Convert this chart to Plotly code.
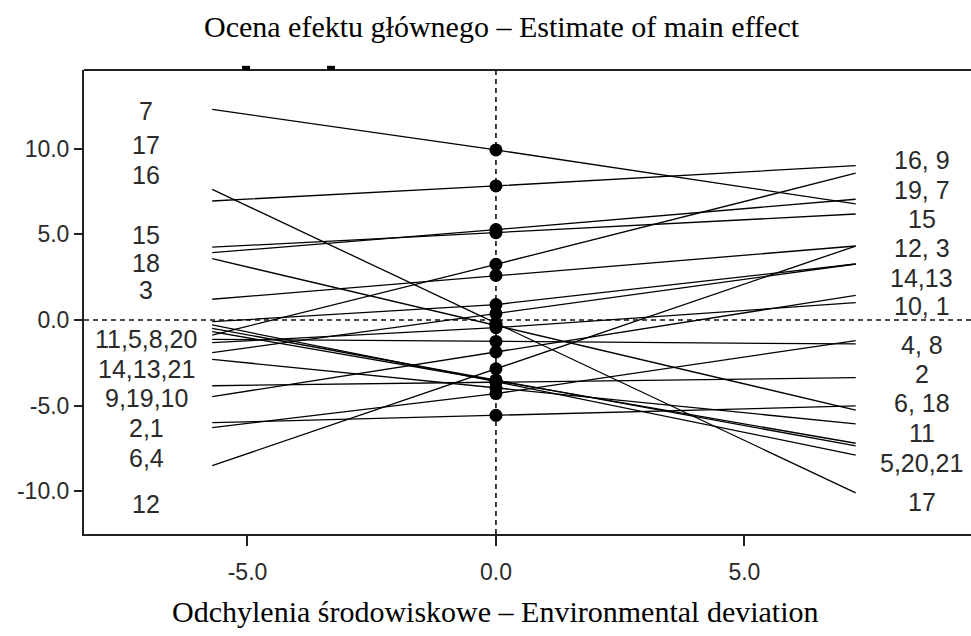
import plotly.graph_objects as go

# ---- data ----
genotypes   = [7, 17, 16, 15, 19, 18, 3, 9, 13, 21, 20, 5, 8, 1, 14, 11, 2, 10, 6, 4, 12]
left_end    = [12.3, 7.63, 6.95, 4.25, 3.93, 3.58, 1.21, -0.88, -0.10, -0.29, -0.49, -0.68,
               -1.13, -1.32, -1.91, -2.30, -3.84, -4.48, -6.00, -6.29, -8.51]
main_effect = [9.93, -0.19, 7.83, 5.10, 5.28, -0.30, 2.60, 3.25, 0.90, -3.60, -3.50, -3.55,
               -1.25, -0.45, 0.37, -3.96, -3.63, -1.87, -5.57, -4.30, -2.85]
right_end   = [6.78, -10.10, 9.01, 6.19, 7.05, -5.26, 4.32, 8.57, 3.27, -7.89, -7.35, -7.20,
               -1.40, 1.01, 3.27, -6.07, -3.37, 1.44, -5.02, -1.20, 4.32]
env_dev_min = -5.71
env_dev_max = 7.24

left_labels  = ["7", "17", "16", "15", "18", "3", "11,5,8,20", "14,13,21", "9,19,10", "2,1", "6,4", "12"]
left_label_y = [12.2, 10.22, 8.47, 4.96, 3.33, 1.75, -1.11, -2.86, -4.56, -6.31, -8.06, -10.75]
right_labels  = ["16, 9", "19, 7", "15", "12, 3", "14,13", "10, 1", "4, 8", "2", "6, 18", "11", "5,20,21", "17"]
right_label_y = [9.35, 7.59, 5.90, 4.21, 2.45, 0.82, -1.46, -3.15, -4.85, -6.60, -8.35, -10.63]

x_ticks = [-5.0, 0.0, 5.0]
y_ticks = [-10.0, -5.0, 0.0, 5.0, 10.0]

fig = go.Figure()

# reference dashed lines
fig.add_shape(type="line", xref="x", yref="paper", x0=0, x1=0, y0=0, y1=1,
              line=dict(color="#111", width=1.6, dash="5px,4px"), layer="below")
fig.add_shape(type="line", xref="paper", yref="y", x0=0, x1=1, y0=0, y1=0,
              line=dict(color="#111", width=1.4, dash="5px,4px"), layer="below")

for g, l, c, r in zip(genotypes, left_end, main_effect, right_end):
    fig.add_trace(go.Scatter(x=[env_dev_min, 0, env_dev_max], y=[l, c, r], mode="lines",
                             line=dict(color="black", width=1.3), hoverinfo="skip",
                             name=str(g), showlegend=False))

fig.add_trace(go.Scatter(x=[0] * len(main_effect), y=main_effect, mode="markers",
                         marker=dict(symbol="circle", size=13, color="black"),
                         showlegend=False))

lab_font = dict(family="Liberation Sans, Arial", size=25, color="#2a2a2a")
for t, y in zip(left_labels, left_label_y):
    fig.add_annotation(x=-7.04, y=y, xref="x", yref="y", text=t, showarrow=False,
                       font=lab_font, xanchor="center", yanchor="middle")
for t, y in zip(right_labels, right_label_y):
    fig.add_annotation(x=8.57, y=y, xref="x", yref="y", text=t, showarrow=False,
                       font=lab_font, xanchor="center", yanchor="middle")

serif = dict(family="Liberation Serif, Times New Roman", size=30, color="black")
fig.add_annotation(x=0.471, y=1.0927, xref="paper", yref="paper",
                   text="Ocena efektu głównego – Estimate of main effect",
                   showarrow=False, font=serif, xanchor="center", yanchor="middle")
fig.add_annotation(x=0.464, y=-0.168, xref="paper", yref="paper",
                   text="Odchylenia środowiskowe – Environmental deviation",
                   showarrow=False, font=serif, xanchor="center", yanchor="middle")

# top frame line and two small marks on it
fig.add_shape(type="line", xref="paper", yref="paper", x0=0, x1=1, y0=1, y1=1,
              line=dict(color="#222", width=2))
for px0 in (242, 327):
    fig.add_shape(type="rect", xref="x", yref="paper",
                  x0=(px0 - 496) / 49.7, x1=(px0 + 8 - 496) / 49.7, y0=1.0, y1=1.009,
                  line=dict(width=0), fillcolor="black")

fig.update_layout(
    width=971, height=636,
    margin=dict(l=84, r=0, t=70, b=102),
    plot_bgcolor="white", paper_bgcolor="white",
    xaxis=dict(range=[-8.29, 9.56], tickvals=x_ticks, ticktext=["-5.0", "0.0", "5.0"],
               showgrid=False, zeroline=False, showline=True, linecolor="#222", linewidth=2,
               ticks="outside", ticklen=10, tickwidth=1.5, tickcolor="#222",
               ticklabelstandoff=6,
               tickfont=dict(family="Liberation Sans, Arial", size=23, color="#2a2a2a")),
    yaxis=dict(range=[-12.5, 14.6], tickvals=y_ticks, ticktext=["-10.0", "-5.0", "0.0", "5.0", "10.0"],
               showgrid=False, zeroline=False, showline=True, linecolor="#222", linewidth=2,
               ticks="outside", ticklen=8, tickwidth=1.5, tickcolor="#222",
               tickfont=dict(family="Liberation Sans, Arial", size=23, color="#2a2a2a")),
)

fig.write_html("out.html", config={"displayModeBar": False})
